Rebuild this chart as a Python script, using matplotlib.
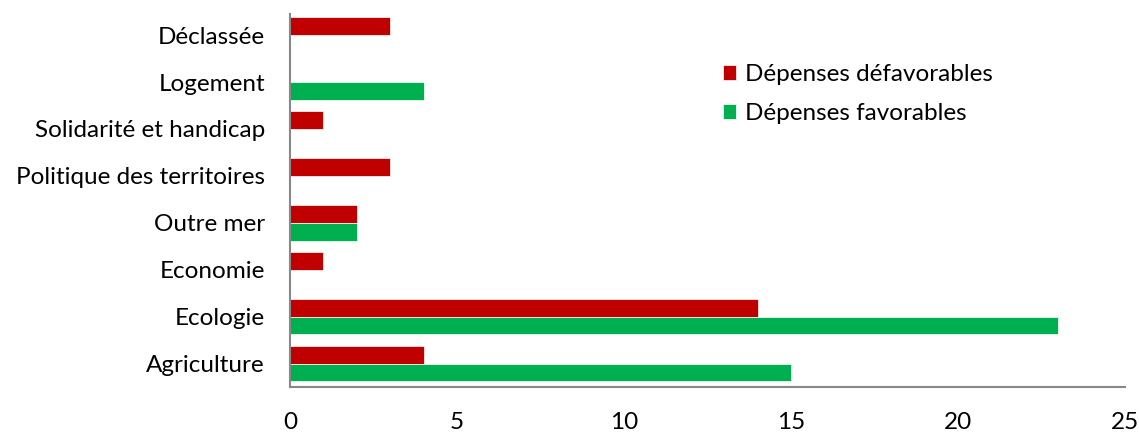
import matplotlib
matplotlib.use("Agg")
import matplotlib.pyplot as plt
import numpy as np

categories = ["Agriculture", "Ecologie", "Economie", "Outre mer",
              "Politique des territoires", "Solidarité et handicap", "Logement", "Déclassée"]
defavorables = [4, 14, 1, 2, 3, 1, 0, 3]
favorables = [15, 23, 0, 2, 0, 0, 4, 0]
xticks = [0, 5, 10, 15, 20, 25]

plt.rcParams['font.family'] = ['Lato', 'DejaVu Sans']
fig = plt.figure(figsize=(11.39, 4.32), dpi=100)
ax = fig.add_axes([290/1139, 1-387/432, (1125-290)/1139, (387-14)/432])

y = np.arange(len(categories))
h = 0.38
ax.barh(y + h/2, defavorables, height=h, color="#C00000", label="Dépenses défavorables", edgecolor="white", linewidth=0.5)
ax.barh(y - h/2, favorables, height=h, color="#00B050", label="Dépenses favorables", edgecolor="white", linewidth=0.5)

fs = 17.5
ax.set_xlim(0, 25)
ax.set_ylim(-0.5, 7.45)
ax.set_xticks(xticks)
ax.set_xticklabels([str(t) for t in xticks], fontsize=fs)
ax.set_yticks(y)
ax.set_yticklabels(categories, fontsize=fs)
ax.tick_params(axis='both', length=0)
ax.tick_params(axis='y', pad=18)
ax.tick_params(axis='x', pad=18)
for s in ["top", "right"]:
    ax.spines[s].set_visible(False)
for s in ["left", "bottom"]:
    ax.spines[s].set_color("#888888")
    ax.spines[s].set_linewidth(1.5)

ax.legend(loc="upper left", bbox_to_anchor=(723/1139, 1-64/432), bbox_transform=fig.transFigure,
          frameon=False, fontsize=fs, handlelength=0.55, handleheight=0.55, handletextpad=0.35,
          labelspacing=0.75, borderaxespad=0, borderpad=0)

fig.savefig("out.png", dpi=100)
